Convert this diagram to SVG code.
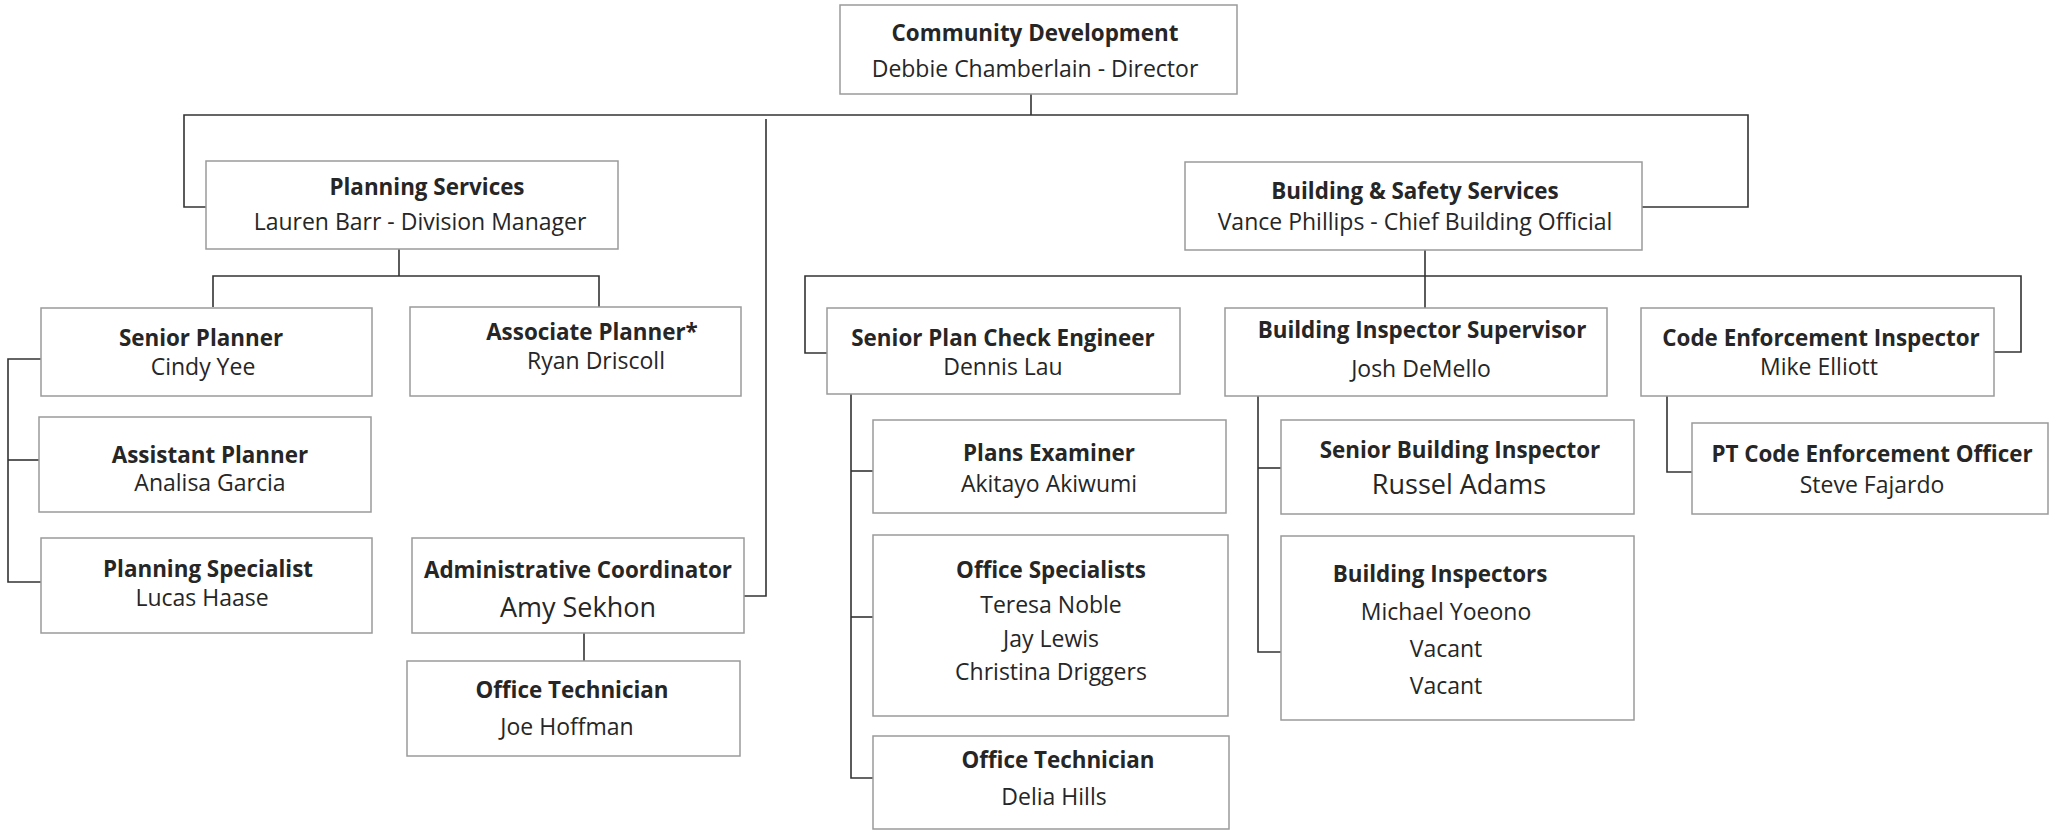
<svg xmlns="http://www.w3.org/2000/svg" width="2049" height="830" viewBox="0 0 2049 830">
<style>
rect.box{fill:#ffffff;stroke:#9a9a9a;stroke-width:1.5}
text{font-family:"Open Sans","Noto Sans","Liberation Sans",sans-serif;font-size:23px;fill:#262626;text-anchor:middle}
text.t{font-weight:700;font-size:22.4px}
text.big{font-size:27px}
.conn path{fill:none;stroke:#333333;stroke-width:1.6}
</style>
<rect width="2049" height="830" fill="#ffffff"/>
<g class="conn" id="connectors">
<path d="M1031,94 V115"/>
<path d="M206,207 H184 V115 H1748 V207 H1642"/>
<path d="M766,119 V596 H744"/>
<path d="M399,249 V276"/>
<path d="M213,307 V276 H599 V307"/>
<path d="M41,359 H8 V582 H41"/>
<path d="M8,460 H39"/>
<path d="M584,633 V661"/>
<path d="M1425,250 V308"/>
<path d="M827,353 H805 V276 H2021 V352 H1994"/>
<path d="M851,394 V778 H873"/>
<path d="M851,471 H873"/>
<path d="M851,617 H873"/>
<path d="M1258,396 V652 H1281"/>
<path d="M1258,468 H1281"/>
<path d="M1667,396 V472 H1692"/>
</g>
<g id="community-development">
<rect class="box" x="840" y="5" width="397" height="89"/>
<text class="t" x="1035" y="41">Community Development</text>
<text x="1035" y="77">Debbie Chamberlain - Director</text>
</g>
<g id="planning-services">
<rect class="box" x="206" y="161" width="412" height="88"/>
<text class="t" x="427" y="195">Planning Services</text>
<text x="420" y="230">Lauren Barr - Division Manager</text>
</g>
<g id="building-safety">
<rect class="box" x="1185" y="162" width="457" height="88"/>
<text class="t" x="1415" y="199">Building &amp; Safety Services</text>
<text x="1415" y="230">Vance Phillips - Chief Building Official</text>
</g>
<g id="senior-planner">
<rect class="box" x="41" y="308" width="331" height="88"/>
<text class="t" x="201" y="346">Senior Planner</text>
<text x="203" y="375">Cindy Yee</text>
</g>
<g id="associate-planner">
<rect class="box" x="410" y="307" width="331" height="89"/>
<text class="t" x="592" y="340">Associate Planner*</text>
<text x="596" y="369">Ryan Driscoll</text>
</g>
<g id="assistant-planner">
<rect class="box" x="39" y="417" width="332" height="95"/>
<text class="t" x="210" y="463">Assistant Planner</text>
<text x="210" y="491">Analisa Garcia</text>
</g>
<g id="planning-specialist">
<rect class="box" x="41" y="538" width="331" height="95"/>
<text class="t" x="208" y="577">Planning Specialist</text>
<text x="202" y="606">Lucas Haase</text>
</g>
<g id="admin-coordinator">
<rect class="box" x="412" y="538" width="332" height="95"/>
<text class="t" x="578" y="578">Administrative Coordinator</text>
<text class="big" x="578" y="617">Amy Sekhon</text>
</g>
<g id="office-technician-1">
<rect class="box" x="407" y="661" width="333" height="95"/>
<text class="t" x="572" y="698">Office Technician</text>
<text x="567" y="735">Joe Hoffman</text>
</g>
<g id="senior-plan-check">
<rect class="box" x="827" y="308" width="353" height="86"/>
<text class="t" x="1003" y="346">Senior Plan Check Engineer</text>
<text x="1003" y="375">Dennis Lau</text>
</g>
<g id="building-inspector-supervisor">
<rect class="box" x="1225" y="308" width="382" height="88"/>
<text class="t" x="1422" y="338">Building Inspector Supervisor</text>
<text x="1421" y="377">Josh DeMello</text>
</g>
<g id="code-enforcement-inspector">
<rect class="box" x="1641" y="308" width="353" height="88"/>
<text class="t" x="1821" y="346">Code Enforcement Inspector</text>
<text x="1819" y="375">Mike Elliott</text>
</g>
<g id="plans-examiner">
<rect class="box" x="873" y="420" width="353" height="93"/>
<text class="t" x="1049" y="461">Plans Examiner</text>
<text x="1049" y="492">Akitayo Akiwumi</text>
</g>
<g id="office-specialists">
<rect class="box" x="873" y="535" width="355" height="181"/>
<text class="t" x="1051" y="578">Office Specialists</text>
<text x="1051" y="613">Teresa Noble</text>
<text x="1051" y="647">Jay Lewis</text>
<text x="1051" y="680">Christina Driggers</text>
</g>
<g id="office-technician-2">
<rect class="box" x="873" y="736" width="356" height="93"/>
<text class="t" x="1058" y="768">Office Technician</text>
<text x="1054" y="805">Delia Hills</text>
</g>
<g id="senior-building-inspector">
<rect class="box" x="1281" y="420" width="353" height="94"/>
<text class="t" x="1460" y="458">Senior Building Inspector</text>
<text class="big" x="1459" y="494">Russel Adams</text>
</g>
<g id="building-inspectors">
<rect class="box" x="1281" y="536" width="353" height="184"/>
<text class="t" x="1440" y="582">Building Inspectors</text>
<text x="1446" y="620">Michael Yoeono</text>
<text x="1446" y="657">Vacant</text>
<text x="1446" y="694">Vacant</text>
</g>
<g id="pt-code-enforcement">
<rect class="box" x="1692" y="423" width="356" height="91"/>
<text class="t" x="1872" y="462">PT Code Enforcement Officer</text>
<text x="1872" y="493">Steve Fajardo</text>
</g>
</svg>
